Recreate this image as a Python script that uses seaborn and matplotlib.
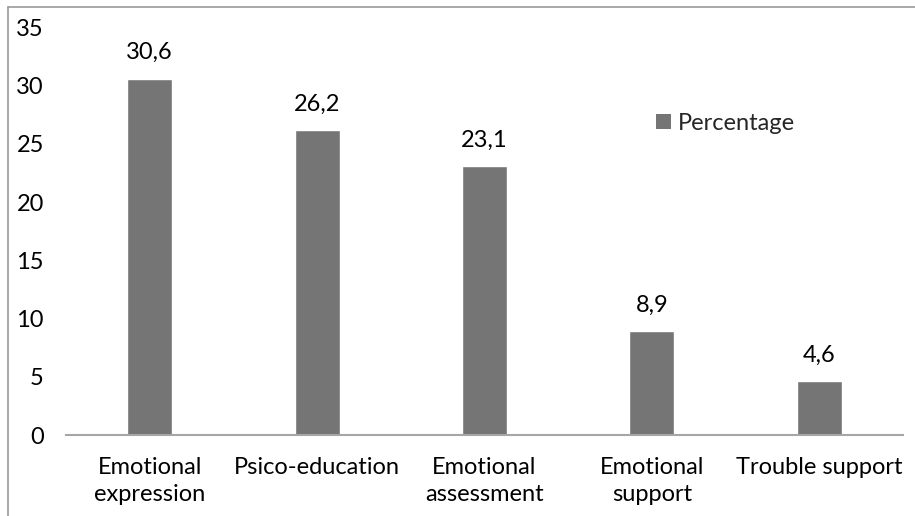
import matplotlib
matplotlib.use("Agg")
import matplotlib.pyplot as plt
from matplotlib.lines import Line2D
from matplotlib.patches import Patch
import seaborn as sns
import pandas as pd

categories = ["Emotional\nexpression", "Psico-education", "Emotional\nassessment",
              "Emotional\nsupport", "Trouble support"]
percentage = [30.6, 26.2, 23.1, 8.9, 4.6]
yticks = [0, 5, 10, 15, 20, 25, 30, 35]

bar_color = "#757575"
axis_color = "#a6a6a6"

sns.set_theme(style="white")
plt.rcParams["font.family"] = ["Lato", "DejaVu Sans"]
FS = 17

df = pd.DataFrame({"category": categories, "value": percentage, "series": "Percentage"})

W, H = 915, 516
fig = plt.figure(figsize=(W / 100, H / 100), dpi=100)
y0, y35 = 435, 27.3
ax = fig.add_axes([66 / W, (H - y0) / H, (903 - 66) / W, (y0 - y35) / H])

sns.barplot(data=df, x="category", y="value", hue="series", palette=[bar_color],
            width=0.27, saturation=1, ax=ax, legend=False)

ax.set_ylim(0, 35)
ax.set_xlim(-0.5, len(categories) - 0.5)
ax.set_yticks(yticks)
ax.set_yticklabels([str(t) for t in yticks])
ax.set_xlabel("")
ax.set_ylabel("")
ax.tick_params(axis="y", length=0, pad=16, labelsize=FS, labelcolor="black")
ax.tick_params(axis="x", length=0, pad=16, labelsize=FS, labelcolor="black")
for lbl in ax.get_xticklabels():
    lbl.set_linespacing(1.35)
for lbl in ax.get_yticklabels():
    lbl.set_y(lbl.get_position()[1])
    lbl.set_va("center_baseline")

for s in ["top", "right", "left"]:
    ax.spines[s].set_visible(False)
ax.spines["bottom"].set_color(axis_color)
ax.spines["bottom"].set_linewidth(1.5)
ax.grid(False)

# value labels above each bar
for i, v in enumerate(percentage):
    ax.annotate(f"{v:.1f}".replace(".", ","), (i, v), xytext=(0, 11),
                textcoords="offset points", ha="center", va="bottom",
                fontsize=FS, color="black")

handle = Patch(facecolor=bar_color, edgecolor="none")
ax.legend([handle], ["Percentage"], loc="center left",
          bbox_to_anchor=(656 / W, (H - 123) / H), bbox_transform=fig.transFigure,
          frameon=False, fontsize=FS, handlelength=0.62, handleheight=0.62,
          handletextpad=0.3, borderaxespad=0, borderpad=0)

# outer frame lines
fig.add_artist(Line2D([8 / W, 8 / W], [0, (H - 7) / H], color="#9a9a9a", lw=1.2,
                      transform=fig.transFigure))
fig.add_artist(Line2D([8 / W, 1], [(H - 7) / H, (H - 7) / H], color="#9a9a9a", lw=1.2,
                      transform=fig.transFigure))

fig.savefig("out.png", dpi=100)
